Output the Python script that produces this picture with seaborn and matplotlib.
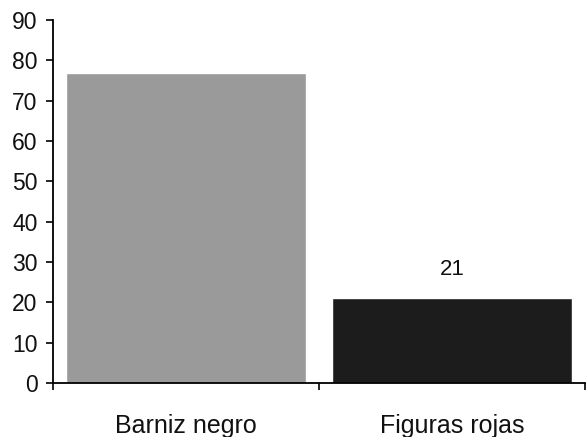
import matplotlib
matplotlib.use("Agg")
import matplotlib.pyplot as plt
import seaborn as sns
import pandas as pd
from matplotlib.ticker import FixedLocator, MultipleLocator

categories = ["Barniz negro", "Figuras rojas"]
values = [77, 21]
bar_colors = ["#9a9a9a", "#1c1c1c"]
labeled = [False, True]

sns.set_style("white")
plt.rcParams["font.family"] = ["Liberation Sans", "DejaVu Sans"]
plt.rcParams["text.color"] = "#111111"
plt.rcParams["xtick.color"] = "#111111"
plt.rcParams["ytick.color"] = "#111111"

df = pd.DataFrame({"tecnica": categories, "valor": values})

fig = plt.figure(figsize=(5.87, 4.37), dpi=100)
ax = fig.add_axes([0.0903, 0.1236, 0.9063, 0.8304])

sns.barplot(data=df, x="tecnica", y="valor", hue="tecnica",
            palette=bar_colors, width=0.9, legend=False, ax=ax,
            saturation=1)

ax.set_ylim(0, 90)
ax.set_xlim(-0.5, 1.5)
ax.yaxis.set_major_locator(MultipleLocator(10))

# category boundaries carry the ticks, names sit centred under the bars
ax.xaxis.set_major_locator(FixedLocator([-0.5, 0.5, 1.5]))
ax.xaxis.set_minor_locator(FixedLocator([0, 1]))
ax.set_xticklabels([], minor=False)
ax.set_xticklabels(categories, minor=True)
ax.tick_params(axis="x", which="major", direction="out", length=5, width=1.2,
               color="black", bottom=True)
ax.tick_params(axis="x", which="minor", length=0, pad=22, labelsize=18)
ax.tick_params(axis="y", direction="out", length=5, width=1.2, color="black",
               left=True, labelsize=16.5, pad=6)

for side in ["top", "right"]:
    ax.spines[side].set_visible(False)
for side in ["left", "bottom"]:
    ax.spines[side].set_color("black")
    ax.spines[side].set_linewidth(1.3)

ax.set_xlabel("")
ax.set_ylabel("")

for container, show in zip(ax.containers, labeled):
    if show:
        ax.bar_label(container, labels=[f"{v:g}" for v in container.datavalues],
                     padding=13, fontsize=16)

fig.savefig("out.png", dpi=100)
